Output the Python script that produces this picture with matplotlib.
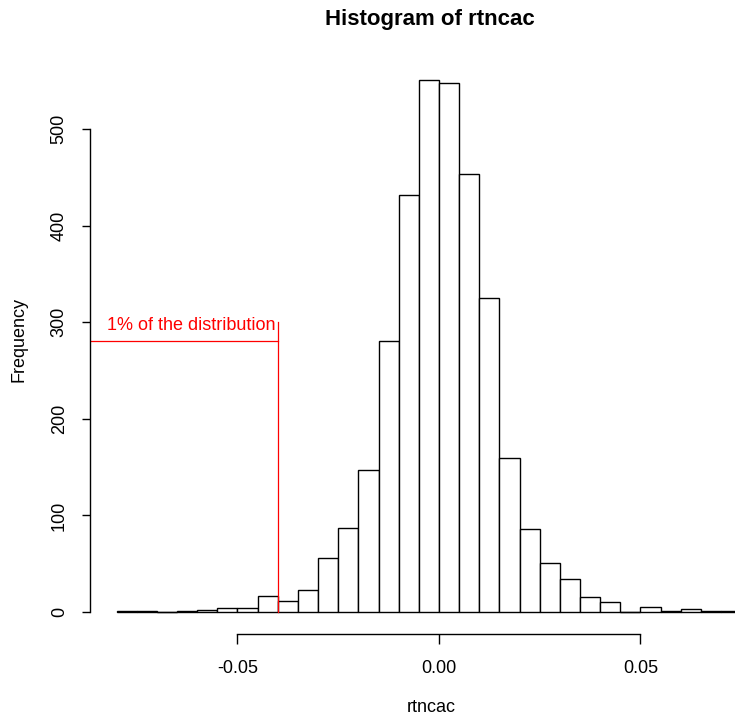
import numpy as np
import matplotlib.pyplot as plt

plt.rcParams['font.family'] = ['Liberation Sans', 'DejaVu Sans']

# histogram of rtncac, bins of width 0.005 starting at -0.08
bin_start = -0.08
bin_width = 0.005
counts = [1, 1, 0, 1, 2, 4, 4, 17, 11, 23, 56, 87, 147, 281, 432, 551,
          548, 453, 325, 159, 86, 51, 34, 16, 10, 0, 5, 1, 3, 1, 1]
x_ticks = [-0.05, 0.0, 0.05]
x_tick_labels = ['-0.05', '0.00', '0.05']
y_ticks = [0, 100, 200, 300, 400, 500]

# red marker for the 1% quantile
q_x = -0.04
q_h = 281
q_top = 300
note_x, note_y = -0.0615, 297

edges = bin_start + bin_width * np.arange(len(counts))
counts = np.array(counts)

fig = plt.figure(figsize=(7.35, 7.15), dpi=100)
ax = fig.add_axes([90 / 735, 81 / 715, 645 / 735, 576 / 715])

ax.bar(edges, counts, width=bin_width, align='edge', color='white',
       edgecolor='black', linewidth=1.0)
# empty bins still show as a flat line, like R does
empty = edges[counts == 0]
ax.hlines(np.zeros(len(empty)), empty, empty + bin_width, color='black',
          linewidth=1.0)

ax.plot([-0.2, q_x], [q_h, q_h], color='red', linewidth=0.9)
ax.plot([q_x, q_x], [0, q_top], color='red', linewidth=0.9)
ax.text(note_x, note_y, '1% of the distribution', color='red', fontsize=13,
        ha='center', va='center')

ax.set_xlim(-0.0866, 0.07345)
ax.set_ylim(-22.8, 573.5)

for s in ['top', 'right']:
    ax.spines[s].set_visible(False)
ax.spines['left'].set_bounds(0, 500)
ax.spines['bottom'].set_bounds(-0.05, 0.05)
for s in ['left', 'bottom']:
    ax.spines[s].set_linewidth(1.0)

ax.set_xticks(x_ticks)
ax.set_xticklabels(x_tick_labels, fontsize=13)
ax.set_yticks(y_ticks)
ax.set_yticklabels([str(v) for v in y_ticks], fontsize=13, rotation=90,
                   va='center')
ax.tick_params(axis='x', length=7, width=1.0, pad=12)
ax.tick_params(axis='y', length=6, width=1.0, pad=10)

fig.text(430 / 735, 1 - 20 / 715, 'Histogram of rtncac', fontsize=16,
         fontweight='bold', ha='center', va='center')
fig.text(431 / 735, 1 - 707 / 715, 'rtncac', fontsize=13,
         ha='center', va='center')
fig.text(19 / 735, 1 - 340 / 715, 'Frequency', fontsize=13, rotation=90,
         ha='center', va='center')

fig.savefig('out.png', dpi=100)
